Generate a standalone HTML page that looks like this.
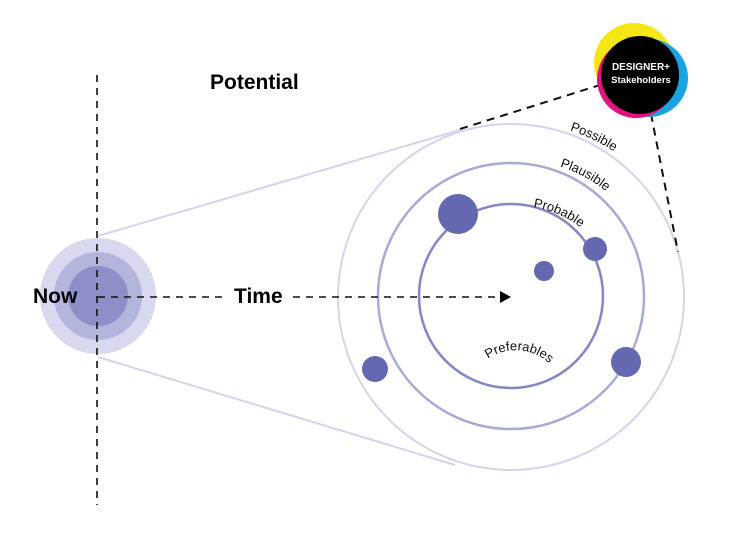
<!DOCTYPE html>
<html><head><meta charset="utf-8"><style>
html,body{margin:0;padding:0;background:#fff;}
svg{display:block;font-family:"Liberation Sans",sans-serif;}
</style></head><body>
<svg width="749" height="547" viewBox="0 0 749 547">
<defs>
<path id="pPos" d="M 450 133 A 182 182 0 0 1 670 210"/>
<path id="pPla" d="M 465 170 A 142 142 0 0 1 645 240"/>
<path id="pPro" d="M 480 214 A 100 100 0 0 1 610 265"/>
<path id="pPre" d="M 470 380 A 50 50 0 0 1 565 392"/>
</defs>
<line x1="98" y1="236" x2="460" y2="130" stroke="#d4d4ea" stroke-width="2"/>
<line x1="98" y1="357" x2="455" y2="465" stroke="#d4d4ea" stroke-width="2"/>
<circle cx="98" cy="296" r="58" fill="#d8d8ee"/>
<circle cx="98" cy="296" r="44" fill="#b4b5dc"/>
<circle cx="98" cy="296" r="30" fill="#8d8fc8"/>
<circle cx="511" cy="297" r="173" fill="none" stroke="#d4d4ea" stroke-width="2"/>
<circle cx="511" cy="296" r="133" fill="none" stroke="#a8aad6" stroke-width="2.5"/>
<circle cx="511" cy="296" r="92" fill="none" stroke="#8587c4" stroke-width="2.5"/>
<g fill="#6468b0">
<circle cx="458" cy="214" r="20"/>
<circle cx="595" cy="249" r="12"/>
<circle cx="544" cy="271" r="10"/>
<circle cx="626" cy="362" r="15"/>
<circle cx="375" cy="369" r="13"/>
</g>
<line x1="97" y1="75" x2="97" y2="505" stroke="#111" stroke-width="1.6" stroke-dasharray="7,6"/>
<line x1="98" y1="297" x2="500" y2="297" stroke="#111" stroke-width="1.6" stroke-dasharray="7,6"/>
<rect x="226" y="284" width="66" height="24" fill="#fff"/>
<polygon points="500,291 511,297 500,303" fill="#000"/>
<line x1="460" y1="129" x2="600" y2="85" stroke="#111" stroke-width="2" stroke-dasharray="8,6"/>
<line x1="651" y1="114" x2="678" y2="252" stroke="#111" stroke-width="2" stroke-dasharray="8,6"/>
<circle cx="634" cy="63" r="40" fill="#f5e614"/>
<circle cx="649" cy="78" r="39" fill="#1aa3e0"/>
<circle cx="636" cy="79" r="39" fill="#e3127d"/>
<circle cx="640" cy="75" r="39" fill="#000"/>
<text x="641" y="70" fill="#fff" font-size="10" font-weight="bold" text-anchor="middle">DESIGNER+</text>
<text x="641" y="83" fill="#fff" font-size="9.5" font-weight="bold" text-anchor="middle">Stakeholders</text>
<text x="210" y="89" font-size="21" font-weight="bold" fill="#000">Potential</text>
<text x="33" y="303" font-size="21" font-weight="bold" fill="#000">Now</text>
<text x="234" y="303" font-size="21" font-weight="bold" fill="#000">Time</text>
<g font-size="13" fill="#111">
<text><textPath href="#pPos" startOffset="58%" text-anchor="middle">Possible</textPath></text>
<text><textPath href="#pPla" startOffset="58%" text-anchor="middle">Plausible</textPath></text>
<text><textPath href="#pPro" startOffset="52%" text-anchor="middle">Probable</textPath></text>
<text><textPath href="#pPre" startOffset="48%" text-anchor="middle">Preferables</textPath></text>
</g>
</svg>
</body></html>
